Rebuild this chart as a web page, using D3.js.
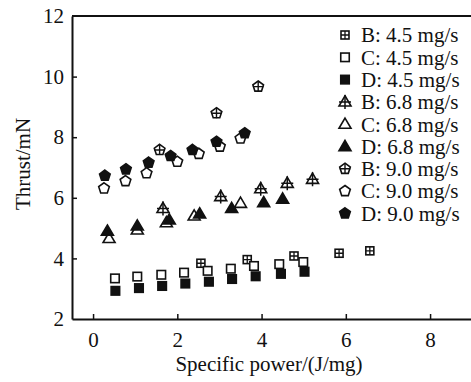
<!DOCTYPE html>
<html>
<head>
<meta charset="utf-8">
<script src="https://cdn.jsdelivr.net/npm/d3@7"></script>
<style>
  body { margin: 0; background: #fff; }
  text { font-family: "Liberation Serif", "Times New Roman", serif; fill: #111; }
</style>
</head>
<body>
<script>
// data
var b45x = [2.56, 3.66, 4.77, 5.84, 6.57];
var b45y = [3.84, 3.96, 4.08, 4.17, 4.25];
var c45x = [0.52, 1.05, 1.62, 2.16, 2.72, 3.27, 3.82, 4.42, 4.99];
var c45y = [3.34, 3.40, 3.46, 3.53, 3.59, 3.66, 3.75, 3.81, 3.88];
var d45x = [0.53, 1.09, 1.64, 2.19, 2.75, 3.30, 3.86, 4.46, 5.02];
var d45y = [2.93, 3.02, 3.09, 3.17, 3.23, 3.32, 3.41, 3.49, 3.56];
var b68x = [1.66, 3.03, 3.98, 4.61, 5.21];
var b68y = [5.65, 6.04, 6.30, 6.48, 6.61];
var c68x = [0.38, 1.05, 1.74, 2.40, 3.50];
var c68y = [4.66, 4.94, 5.18, 5.40, 5.82];
var d68x = [0.34, 1.05, 1.81, 2.53, 3.29, 4.05, 4.50];
var d68y = [4.90, 5.07, 5.27, 5.47, 5.65, 5.84, 5.96];
var b90x = [1.58, 2.93, 3.92];
var b90y = [7.58, 8.79, 9.67];
var c90x = [0.26, 0.77, 1.27, 2.00, 2.51, 3.01, 3.50];
var c90y = [6.31, 6.55, 6.81, 7.19, 7.45, 7.69, 7.96];
var d90x = [0.28, 0.78, 1.32, 1.84, 2.36, 2.93, 3.60];
var d90y = [6.73, 6.94, 7.16, 7.38, 7.58, 7.85, 8.13];

var labels = ["B: 4.5 mg/s", "C: 4.5 mg/s", "D: 4.5 mg/s",
              "B: 6.8 mg/s", "C: 6.8 mg/s", "D: 6.8 mg/s",
              "B: 9.0 mg/s", "C: 9.0 mg/s", "D: 9.0 mg/s"];
var xTicks = [0, 2, 4, 6, 8];
var yTicks = [2, 4, 6, 8, 10, 12];

var series = [
    {x: b45x, y: b45y, shape: "sqcross"},
    {x: c45x, y: c45y, shape: "sqopen"},
    {x: d45x, y: d45y, shape: "sqfill"},
    {x: b68x, y: b68y, shape: "tricross"},
    {x: c68x, y: c68y, shape: "triopen"},
    {x: d68x, y: d68y, shape: "trifill"},
    {x: b90x, y: b90y, shape: "pentcross"},
    {x: c90x, y: c90y, shape: "pentopen"},
    {x: d90x, y: d90y, shape: "pentfill"}
];

var W = 471, H = 382;
var margin = {top: 16, left: 72, bottom: 63};
var ink = "#111";

var svg = d3.select("body").append("svg")
    .attr("width", W).attr("height", H);

var x = d3.scaleLinear().domain([-0.5, 9]).range([margin.left, 93.3 + 9 * 42.1]);
var y = d3.scaleLinear().domain([2, 12]).range([H - margin.bottom, margin.top]);

// axes, ticks pointing in
var gx = svg.append("g")
    .attr("transform", `translate(0, ${y(2)})`)
    .call(d3.axisBottom(x).tickValues(xTicks).tickSizeInner(-5).tickSizeOuter(0).tickPadding(9));
var gy = svg.append("g")
    .attr("transform", `translate(${x(-0.5)}, 0)`)
    .call(d3.axisLeft(y).tickValues(yTicks).tickSizeInner(-5).tickSizeOuter(0).tickPadding(8));

[gx, gy].forEach(g => {
    g.select(".domain").attr("stroke", ink).attr("stroke-width", 2);
    g.selectAll(".tick line").attr("stroke", ink).attr("stroke-width", 1.5);
    g.selectAll(".tick text").attr("font-size", 21)
        .attr("font-family", "Liberation Serif, Times New Roman, serif").attr("fill", ink);
});
gx.selectAll(".tick text").attr("dy", "0.9em");
gy.selectAll(".tick").filter(d => d === 2 || d === 12).select("line").remove();

// top frame line
svg.append("line")
    .attr("x1", x(-0.5)).attr("x2", W)
    .attr("y1", y(12)).attr("y2", y(12))
    .attr("stroke", ink).attr("stroke-width", 2);

// marker shapes
function pentagon(r) {
    var pts = d3.range(5).map(i => {
        var a = -Math.PI / 2 + i * 2 * Math.PI / 5;
        return [r * Math.cos(a), r * Math.sin(a)];
    });
    return "M" + pts.join("L") + "Z";
}
function triangle(s) {
    var h = s * 0.85;
    return `M0,${-h * 0.6}L${s / 2},${h * 0.4}L${-s / 2},${h * 0.4}Z`;
}

function drawMarker(g, shape) {
    var sw = 1.6;
    if (shape.startsWith("sq")) {
        var s = shape === "sqcross" ? 8 : 8.5;
        g.append("rect").attr("x", -s / 2).attr("y", -s / 2).attr("width", s).attr("height", s)
            .attr("fill", shape === "sqfill" ? ink : "#fff").attr("stroke", ink).attr("stroke-width", sw);
        if (shape === "sqcross") {
            g.append("path").attr("d", `M0,${-s / 2}V${s / 2}M${-s / 2},0H${s / 2}`)
                .attr("stroke", ink).attr("stroke-width", 1.3);
        }
    } else if (shape.startsWith("tri")) {
        g.append("path").attr("d", triangle(12))
            .attr("fill", shape === "trifill" ? ink : "#fff").attr("stroke", ink).attr("stroke-width", sw);
        if (shape === "tricross") {
            g.append("path").attr("d", "M0,-7V7M-6,0H6")
                .attr("stroke", ink).attr("stroke-width", 1.5);
        }
    } else {
        g.append("path").attr("d", pentagon(5.6))
            .attr("fill", shape === "pentfill" ? ink : "#fff").attr("stroke", ink).attr("stroke-width", sw);
        if (shape === "pentcross") {
            g.append("path").attr("d", "M0,-5.6V5M-5.3,0H5.3")
                .attr("stroke", ink).attr("stroke-width", 1.4);
        }
    }
}

// points
series.forEach(s => {
    s.x.forEach((v, i) => {
        var g = svg.append("g").attr("transform", `translate(${x(v)}, ${y(s.y[i])})`);
        drawMarker(g, s.shape);
    });
});

// legend
var leg = svg.append("g");
labels.forEach((lab, i) => {
    var yy = 35 + i * 22.3;
    var g = leg.append("g").attr("transform", `translate(345, ${yy})`);
    drawMarker(g, series[i].shape);
    leg.append("text")
        .attr("x", 361).attr("y", yy).attr("dy", "0.35em")
        .attr("font-size", 21)
        .text(lab);
});

// axis titles
svg.append("text")
    .attr("x", 269).attr("y", 371)
    .attr("text-anchor", "middle")
    .attr("font-size", 21)
    .text("Specific power/(J/mg)");

svg.append("text")
    .attr("transform", "rotate(-90)")
    .attr("x", -164).attr("y", 30)
    .attr("text-anchor", "middle")
    .attr("font-size", 21)
    .text("Thrust/mN");
</script>
</body>
</html>
